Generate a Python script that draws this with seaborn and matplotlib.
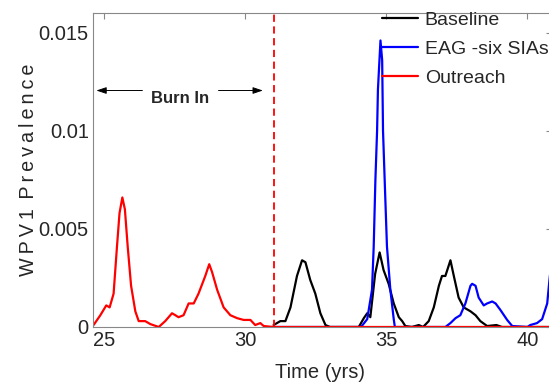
import numpy as np
import pandas as pd
import matplotlib
matplotlib.use("Agg")
import matplotlib.pyplot as plt
import seaborn as sns

# values
t_outreach = [24.62, 24.86, 25.07, 25.19, 25.33, 25.45, 25.54, 25.64, 25.73, 25.83, 25.95,
              26.10, 26.22, 26.45, 26.63, 26.93, 27.16, 27.40, 27.52, 27.63, 27.81, 27.99,
              28.17, 28.34, 28.58, 28.72, 28.82, 29.00, 29.23, 29.47, 29.71, 29.94, 30.18,
              30.35, 30.53, 30.65, 31.00, 40.90]
v_outreach = [0.0001, 0.0006, 0.0011, 0.0010, 0.0017, 0.0041, 0.0058, 0.0066, 0.0060, 0.0041, 0.0021,
              0.0008, 0.0003, 0.0003, 0.00015, 0.0, 0.0003, 0.0007, 0.0006, 0.0005, 0.0006, 0.0012,
              0.0012, 0.0017, 0.0026, 0.0032, 0.0028, 0.0019, 0.0010, 0.0006, 0.00045, 0.00036, 0.00036,
              0.0001, 0.0002, 0.00005, 0.0, 0.0]

t_base = [31.00, 31.24, 31.42, 31.60, 31.83, 32.01, 32.13, 32.30, 32.48, 32.66, 32.84, 33.00,
          34.02, 34.20, 34.32, 34.43, 34.60, 34.76, 34.90, 35.08, 35.26, 35.44, 35.56, 35.67,
          35.90, 36.15, 36.30, 36.50, 36.68, 36.86, 36.97, 37.09, 37.27, 37.39, 37.56, 37.74,
          37.98, 38.16, 38.33, 38.57, 38.90, 39.10, 40.90]
v_base = [0.0001, 0.0003, 0.0003, 0.0010, 0.0026, 0.0034, 0.0033, 0.0024, 0.0017, 0.0007, 0.0001, 0.0,
          0.0, 0.00045, 0.0007, 0.0005, 0.0027, 0.0038, 0.0029, 0.0022, 0.0012, 0.0005, 0.0003, 0.00005,
          0.0, 0.0001, 0.0, 0.0003, 0.0010, 0.0021, 0.0026, 0.0026, 0.0034, 0.0026, 0.0015, 0.0010,
          0.0008, 0.0006, 0.0003, 0.00005, 0.0001, 0.0, 0.0]

t_eag = [31.00, 34.10, 34.32, 34.49, 34.55, 34.61, 34.67, 34.70, 34.79, 34.85, 34.88, 34.96,
         35.02, 35.14, 35.26, 35.30, 37.09, 37.27, 37.45, 37.62, 37.80, 37.98, 38.04, 38.16,
         38.27, 38.45, 38.57, 38.75, 38.87, 39.04, 39.28, 39.46, 40.00, 40.10, 40.34, 40.52,
         40.70, 40.78, 40.90]
v_eag = [0.0, 0.0, 0.0004, 0.0019, 0.0041, 0.0075, 0.0100, 0.0121, 0.0146, 0.0136, 0.0100, 0.0066,
         0.0041, 0.0019, 0.0004, 0.0, 0.0, 0.0002, 0.00045, 0.0006, 0.0012, 0.0021, 0.0022, 0.0021,
         0.0015, 0.0011, 0.0012, 0.0013, 0.0012, 0.00087, 0.00036, 0.00005, 0.0, 0.0001, 0.0002, 0.0004,
         0.0012, 0.0024, 0.0040]

burn_in_end = 31.0
x_ticks = [25, 30, 35, 40]
y_ticks = [0, 0.005, 0.01, 0.015]
y_tick_labels = ["0", "0.005", "0.01", "0.015"]

sns.set_style("white")
plt.rcParams['font.family'] = ['Liberation Sans', 'DejaVu Sans']

df = pd.concat([
    pd.DataFrame({"t": t_base, "v": v_base, "s": "Baseline"}),
    pd.DataFrame({"t": t_eag, "v": v_eag, "s": "EAG -six SIAs"}),
    pd.DataFrame({"t": t_outreach, "v": v_outreach, "s": "Outreach"}),
])

fig = plt.figure(figsize=(5.49, 3.87), dpi=100)
ax = fig.add_axes([93 / 549, 1 - 327 / 387, 459 / 549, 314 / 387])

sns.lineplot(data=df, x="t", y="v", hue="s", sort=False, estimator=None,
             palette={"Baseline": "black", "EAG -six SIAs": "#0000ff", "Outreach": "#ff0000"},
             linewidth=1.6, ax=ax)

ax.axvline(burn_in_end, color="#ff0000", ls=(0, (4, 2.5)), lw=1.3)

ax.set_xlim(24.6, 40.87)
ax.set_ylim(0, 0.016)
ax.set_xticks(x_ticks)
ax.set_yticks(y_ticks)
ax.set_yticklabels(y_tick_labels)
ax.tick_params(direction="in", length=4, color="#888888", labelsize=14.5,
               top=True, right=True, pad=3)
for sp in ax.spines.values():
    sp.set_color("#888888")
    sp.set_linewidth(0.8)

ax.set_xlabel("Time (yrs)", fontsize=14.5)
# letter-spaced label, as in the original
ax.set_ylabel("\u2009".join("WPV1") + "\u2009 " + "\u2009".join("Prevalence"), fontsize=14.2)
ax.xaxis.set_label_coords(0.495, -0.115)
ax.yaxis.set_label_coords(-0.12, 0.5)

# burn-in arrows
ax.annotate("", xy=(24.62, 0.01205), xytext=(26.45, 0.01205),
            arrowprops=dict(arrowstyle="-|>,head_length=0.6,head_width=0.2", color="black", lw=0.7))
ax.annotate("", xy=(30.72, 0.01205), xytext=(28.95, 0.01205),
            arrowprops=dict(arrowstyle="-|>,head_length=0.6,head_width=0.2", color="black", lw=0.7))
ax.text(27.7, 0.01163, "Burn In", fontsize=12, fontweight="bold", ha="center", va="center",
        family=['Liberation Sans Narrow', 'Liberation Sans', 'DejaVu Sans'])

ax.legend(loc="upper left", bbox_to_anchor=(382 / 549, 1 - 11 / 387),
          bbox_transform=fig.transFigure, frameon=False, fontsize=14,
          handlelength=1.85, handletextpad=0.35, labelspacing=0.6, borderpad=0,
          borderaxespad=0, title=None)

fig.savefig("out.png", dpi=100)
